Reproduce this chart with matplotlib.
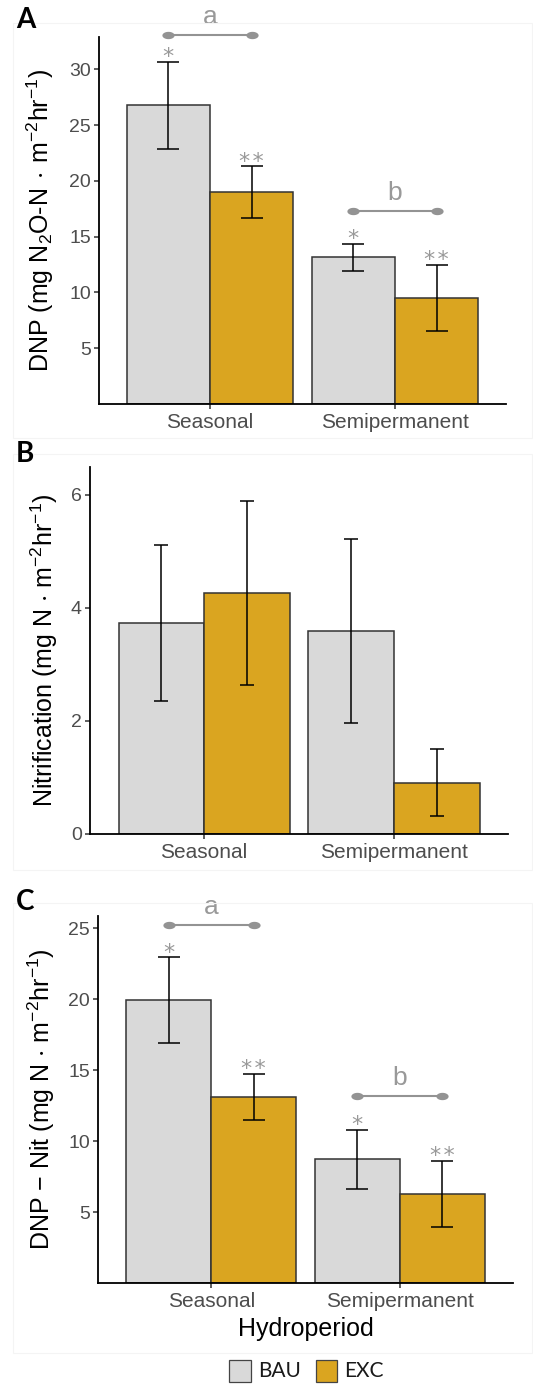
import numpy as np
import matplotlib
matplotlib.use("Agg")
import matplotlib.pyplot as plt
from matplotlib.path import Path
from matplotlib.patches import Rectangle

plt.rcParams["font.family"] = ["Liberation Sans", "DejaVu Sans"]
plt.rcParams["mathtext.default"] = "regular"

# ---------------- data ----------------
hydroperiods = ["Seasonal", "Semipermanent"]
treatments = ["BAU", "EXC"]

# Panel A: potential denitrification
dnp_bau = [26.8, 13.15]
dnp_bau_se = [3.9, 1.2]
dnp_exc = [19.0, 9.5]
dnp_exc_se = [2.3, 3.0]
dnp_sig_y = [33.1, 17.3]
dnp_ticks = [5, 10, 15, 20, 25, 30]

# Panel B: nitrification
nit_bau = [3.73, 3.59]
nit_bau_se = [1.38, 1.63]
nit_exc = [4.26, 0.91]
nit_exc_se = [1.62, 0.59]
nit_ticks = [0, 2, 4, 6]

# Panel C: DNP minus nitrification
diff_bau = [19.9, 8.71]
diff_bau_se = [3.03, 2.08]
diff_exc = [13.12, 6.27]
diff_exc_se = [1.63, 2.35]
diff_sig_y = [25.2, 13.19]
diff_ticks = [5, 10, 15, 20, 25]

sig_letters = ["a", "b"]
stars = ["*", "*\u200a*"]

# ---------------- style ----------------
W, H = 533, 1385
C_BAU = "#D9D9D9"
C_EXC = "#DAA520"
EDGE = "#333333"
TICK_TXT = "#4D4D4D"
SIG = "#939393"

fig = plt.figure(figsize=(W / 100, H / 100), dpi=100)


def frac_box(l, r, t, b):
    return [l / W, 1 - b / H, (r - l) / W, (b - t) / H]


# faint panel backgrounds
for (l, t, r, b) in [(13, 23, 532, 438), (13, 454, 532, 870), (13, 903, 532, 1353)]:
    fig.patches.append(Rectangle((l / W, 1 - b / H), (r - l) / W, (b - t) / H,
                                 transform=fig.transFigure, fill=False,
                                 edgecolor="#F4F4F4", lw=0.8, zorder=0))

ellipse = Path(np.column_stack([np.cos(np.linspace(0, 2 * np.pi, 60)),
                                0.6 * np.sin(np.linspace(0, 2 * np.pi, 60))]),
               closed=True)


def panel(box, bau, bau_se, exc, exc_se, ylim, ticks, ylabel, label_x,
          capsize, sig_y=None, show_stars=False):
    ax = fig.add_axes(frac_box(*box))
    x = np.arange(1, len(hydroperiods) + 1)
    w = 0.45
    ax.bar(x - w / 2, bau, width=w, color=C_BAU, edgecolor=EDGE, lw=1.1, zorder=2)
    ax.bar(x + w / 2, exc, width=w, color=C_EXC, edgecolor=EDGE, lw=1.1, zorder=2)
    ax.errorbar(x - w / 2, bau, yerr=bau_se, fmt="none", ecolor="black",
                elinewidth=1.1, capsize=capsize, capthick=1.1, zorder=3)
    ax.errorbar(x + w / 2, exc, yerr=exc_se, fmt="none", ecolor="black",
                elinewidth=1.1, capsize=capsize, capthick=1.1, zorder=3)

    if show_stars:
        for xs, vals, ses, st in [(x - w / 2, bau, bau_se, stars[0]),
                                  (x + w / 2, exc, exc_se, stars[1])]:
            for xi, m, s in zip(xs, vals, ses):
                ax.annotate(st, (xi, m + s), xytext=(0, -1), textcoords="offset points",
                            ha="center", va="baseline", color="#999999", fontsize=16,
                            family=["DejaVu Sans"], annotation_clip=False)

    if sig_y is not None:
        for xi, yi, let in zip(x, sig_y, sig_letters):
            ax.plot([xi - w / 2, xi + w / 2], [yi, yi], color=SIG, lw=1.5,
                    marker=ellipse, markersize=8.8, markeredgewidth=0,
                    clip_on=False, zorder=4)
            ax.annotate(let, (xi, yi), xytext=(0, 8), textcoords="offset points",
                        ha="center", va="baseline", color="#999999", fontsize=19,
                        annotation_clip=False)

    ax.set_xlim(0.4, 2.6)
    ax.set_ylim(*ylim)
    ax.set_xticks(x)
    ax.set_xticklabels(hydroperiods)
    ax.set_yticks(ticks)
    for side in ("top", "right"):
        ax.spines[side].set_visible(False)
    for side in ("left", "bottom"):
        ax.spines[side].set_linewidth(1.3)
        ax.spines[side].set_color("black")
    ax.tick_params(axis="both", length=3.8, width=1.1, color=EDGE, labelcolor=TICK_TXT)
    ax.tick_params(axis="x", labelsize=15, pad=2.5)
    ax.tick_params(axis="y", labelsize=14, pad=2)
    ax.text(label_x, 0.5, ylabel, rotation=90, ha="center", va="center",
            transform=ax.transAxes, fontsize=18, color="black")
    return ax


panel((99, 506, 37, 404), dnp_bau, dnp_bau_se, dnp_exc, dnp_exc_se, (0, 32.9),
      dnp_ticks, "DNP (mg N$_2$O-N$\\,\\cdot\\,$m$^{-2}$hr$^{-1}$)", -0.145, 7.9,
      sig_y=dnp_sig_y, show_stars=True)
panel((90, 508, 467, 834), nit_bau, nit_bau_se, nit_exc, nit_exc_se, (0, 6.49),
      nit_ticks, "Nitrification (mg N $\\cdot$ m$^{-2}$hr$^{-1}$)", -0.11, 5.0)
panel((98, 513, 916, 1283), diff_bau, diff_bau_se, diff_exc, diff_exc_se, (0, 25.85),
      diff_ticks, "DNP \u2212 Nit (mg N $\\cdot$ m$^{-2}$hr$^{-1}$)", -0.136, 8.2,
      sig_y=diff_sig_y, show_stars=True)

# panel letters
for letter, base in [("A", 28), ("B", 462), ("C", 910)]:
    fig.text(16 / W, 1 - base / H, letter, fontsize=20, fontweight="bold",
             family=["Lato", "DejaVu Sans"], va="baseline", ha="left")

# shared x-axis title
fig.text(305.5 / W, 1 - 1329 / H, "Hydroperiod", fontsize=18, ha="center",
         va="center", color="black")

# legend
for (l, r), name, col in zip([(229, 251), (316, 337)], treatments, [C_BAU, C_EXC]):
    fig.patches.append(Rectangle((l / W, 1 - 1382 / H), (r - l) / W, 22 / H,
                                 transform=fig.transFigure, facecolor=col,
                                 edgecolor="#444444", lw=0.9))
    fig.text((r + 7) / W, 1 - 1371 / H, name, fontsize=15, ha="left",
             va="center", family=["Lato", "DejaVu Sans"], color="#1a1a1a")

fig.savefig("out.png", dpi=100)
